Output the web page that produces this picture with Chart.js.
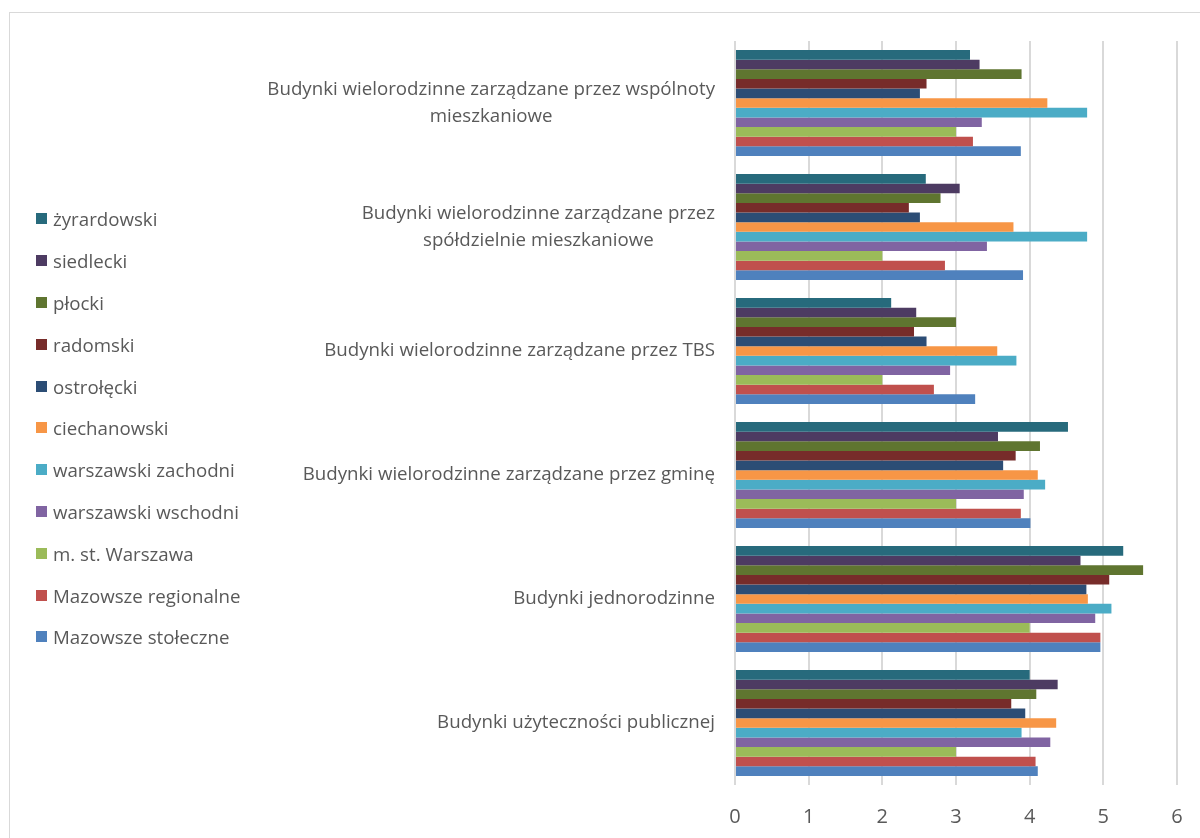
<!DOCTYPE html>
<html>
<head>
<meta charset="utf-8">
<script src="https://cdn.jsdelivr.net/npm/chart.js@4.4.1/dist/chart.umd.min.js"></script>
<style>
  body { margin: 0; background: #fff; font-family: "Open Sans", sans-serif; }
  #wrap { position: relative; width: 1200px; height: 838px; overflow: hidden; }
  #frame { position: absolute; left: 9px; top: 12px; width: 1300px; height: 900px; border: 1.5px solid #d9d9d9; }
  #chart { position: absolute; left: 0; top: 0; }
  #legend { position: absolute; left: 36px; top: 198px; }
  #legend div { height: 41.8px; display: flex; align-items: center; font-size: 18.7px; color: #595959; white-space: nowrap; }
  #legend span.box { width: 11px; height: 11px; margin-right: 6px; display: inline-block; }
</style>
</head>
<body>
<div id="wrap">
  <div id="frame"></div>
  <canvas id="chart" width="1200" height="838"></canvas>
  <div id="legend"></div>
</div>
<script>
// categories, top to bottom
var categories = [
    ["Budynki wielorodzinne zarządzane przez wspólnoty", "mieszkaniowe"],
    ["Budynki wielorodzinne zarządzane przez", "spółdzielnie mieszkaniowe"],
    "Budynki wielorodzinne zarządzane przez TBS",
    "Budynki wielorodzinne zarządzane przez gminę",
    "Budynki jednorodzinne",
    "Budynki użyteczności publicznej"
];

var seriesNames = ["żyrardowski", "siedlecki", "płocki", "radomski", "ostrołęcki", "ciechanowski",
    "warszawski zachodni", "warszawski wschodni", "m. st. Warszawa", "Mazowsze regionalne", "Mazowsze stołeczne"];

var zyrardowski = [3.19, 2.59, 2.12, 4.52, 5.27, 4.00];
var siedlecki = [3.32, 3.05, 2.46, 3.57, 4.69, 4.38];
var plocki = [3.89, 2.79, 3.00, 4.14, 5.54, 4.09];
var radomski = [2.60, 2.36, 2.43, 3.81, 5.08, 3.75];
var ostrolecki = [2.51, 2.51, 2.60, 3.64, 4.77, 3.94];
var ciechanowski = [4.24, 3.78, 3.56, 4.11, 4.79, 4.36];
var warszawskiZachodni = [4.78, 4.78, 3.82, 4.21, 5.11, 3.89];
var warszawskiWschodni = [3.35, 3.42, 2.92, 3.92, 4.89, 4.28];
var warszawa = [3.00, 2.00, 2.00, 3.00, 4.00, 3.00];
var mazowszeRegionalne = [3.23, 2.85, 2.70, 3.88, 4.96, 4.08];
var mazowszeStoleczne = [3.88, 3.91, 3.26, 4.01, 4.96, 4.11];

var seriesValues = [zyrardowski, siedlecki, plocki, radomski, ostrolecki, ciechanowski,
    warszawskiZachodni, warszawskiWschodni, warszawa, mazowszeRegionalne, mazowszeStoleczne];

var colors = ['#276a7c', '#4d3b62', '#5f7530', '#772c2a', '#2c4d75', '#f79646',
    '#4bacc6', '#8064a2', '#9bbb59', '#c0504d', '#4f81bd'];

var xTicks = [0, 1, 2, 3, 4, 5, 6];

var datasets = seriesNames.map(function (name, i) {
    return {
        label: name,
        data: seriesValues[i],
        backgroundColor: colors[i],
        borderWidth: 0,
        barPercentage: 1.0,
        categoryPercentage: 0.855
    };
});

// category labels: right edge fixed, extra lines centred under the first one
var categoryLabels = {
    id: 'categoryLabels',
    afterDraw: function (chart) {
        var ctx = chart.ctx;
        var scale = chart.scales.y;
        ctx.save();
        ctx.font = '18.7px "Open Sans"';
        ctx.fillStyle = '#595959';
        ctx.textBaseline = 'middle';
        ctx.textAlign = 'center';
        categories.forEach(function (label, i) {
            var lines = Array.isArray(label) ? label : [label];
            var maxW = 0;
            lines.forEach(function (l) { maxW = Math.max(maxW, ctx.measureText(l).width); });
            var cx = 715 - maxW / 2;
            var cy = scale.getPixelForTick(i);
            lines.forEach(function (l, k) {
                ctx.fillText(l, cx, cy + (k - (lines.length - 1) / 2) * 27);
            });
        });
        ctx.restore();
    }
};

var ctx = document.getElementById('chart').getContext('2d');

var myChart = new Chart(ctx, {
    type: 'bar',
    data: {
        labels: categories,
        datasets: datasets
    },
    options: {
        indexAxis: 'y',
        responsive: false,
        animation: false,
        layout: { padding: { top: 41, right: 23, bottom: 0, left: 0 } },
        plugins: {
            legend: { display: false },
            tooltip: { enabled: false }
        },
        scales: {
            x: {
                min: 0,
                max: 6,
                afterBuildTicks: function (s) { s.ticks = xTicks.map(function (v) { return { value: v }; }); },
                afterFit: function (s) {
                    s.height = 53;
                    s.paddingLeft = 0;
                    s.paddingRight = 0;
                },
                grid: { color: '#d9d9d9', lineWidth: 2, drawTicks: false },
                border: { display: false },
                ticks: { color: '#595959', font: { family: 'Open Sans', size: 20 }, padding: 20 }
            },
            y: {
                afterFit: function (s) { s.width = 735; },
                grid: { display: false },
                border: { display: false },
                ticks: { display: false }
            }
        }
    },
    plugins: [categoryLabels]
});

// legend, same order as the datasets
var legend = document.getElementById('legend');
datasets.forEach(function (d) {
    var item = document.createElement('div');
    var box = document.createElement('span');
    box.className = 'box';
    box.style.background = d.backgroundColor;
    item.appendChild(box);
    item.appendChild(document.createTextNode(d.label));
    legend.appendChild(item);
});
</script>
</body>
</html>
